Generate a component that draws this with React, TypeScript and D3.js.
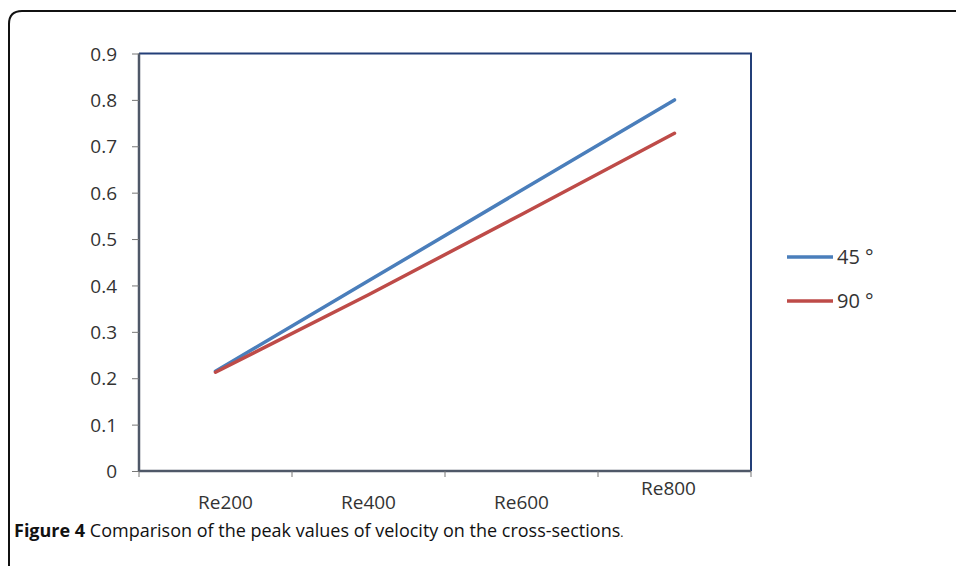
import * as d3 from 'd3';
import { useEffect, useRef } from 'react';

const categories = ['Re200', 'Re400', 'Re600', 'Re800'];
const series45 = [0.215, 0.41, 0.605, 0.8];
const series90 = [0.213, 0.38, 0.553, 0.728];
const yTicks = [0, 0.1, 0.2, 0.3, 0.4, 0.5, 0.6, 0.7, 0.8, 0.9];
const seriesNames = ['45°', '90°'];

const W = 956;
const H = 566;
const font = 'Open Sans, Lato, sans-serif';

const App = () => {
  const ref = useRef<SVGSVGElement | null>(null);

  useEffect(() => {
    if (!ref.current) return;
    const svg = d3.select(ref.current);
    svg.selectAll('*').remove();

    // outer figure frame
    svg.append('path')
      .attr('d', 'M9,580 L9,24 Q9,11 22,11 L970,11')
      .attr('fill', 'none')
      .attr('stroke', '#111')
      .attr('stroke-width', 2);

    const left = 139, right = 751, top = 53.5, bottom = 471;
    const x = d3.scaleBand<string>().domain(categories).range([left, right]);
    const y = d3.scaleLinear().domain([0, 0.9]).range([bottom, top]);

    // plot box top / right
    svg.append('path')
      .attr('d', `M${left},${top} L${right},${top} L${right},${bottom}`)
      .attr('fill', 'none')
      .attr('stroke', '#233f78')
      .attr('stroke-width', 2);

    // y axis
    const yAxis = svg.append('g').attr('transform', `translate(${left},0)`)
      .call(d3.axisLeft(y).tickValues(yTicks).tickSize(7).tickPadding(15)
        .tickFormat(d => d3.format('')(+(+d).toFixed(1))));
    yAxis.attr('font-size', null).attr('font-family', null);
    yAxis.select('.domain').attr('stroke', '#4f5868').attr('stroke-width', 2.5)
      .attr('d', `M0,${top}V${bottom}`);
    yAxis.selectAll('.tick line').attr('stroke', '#777');
    yAxis.selectAll('text')
      .style('font-family', font).style('font-size', '19px').attr('fill', '#333')
      .attr('dy', '0.35em');

    // x axis
    const xAxis = svg.append('g').attr('transform', `translate(0,${bottom})`);
    xAxis.append('line').attr('x1', left).attr('x2', right).attr('stroke', '#4f5868').attr('stroke-width', 2.5);
    const bounds = [...categories.map(c => x(c) as number), right];
    xAxis.selectAll('line.tick').data(bounds).enter().append('line')
      .attr('class', 'tick')
      .attr('x1', d => d).attr('x2', d => d).attr('y1', 0).attr('y2', 6)
      .attr('stroke', '#777');
    xAxis.selectAll('text').data(categories).enter().append('text')
      .attr('x', d => (x(d) as number) + x.bandwidth() / 2 + (d === 'Re200' ? 10 : d === 'Re800' ? -6 : 0))
      .attr('y', d => d === 'Re800' ? 24 : 38)
      .attr('text-anchor', 'middle')
      .style('font-family', font).style('font-size', '19px').attr('fill', '#333')
      .text(d => d);

    const colors = ['#4a7ebb', '#be4b48'];
    const line = d3.line<number>()
      .x((_, i) => (x(categories[i]) as number) + x.bandwidth() / 2)
      .y(d => y(d));
    [series45, series90].forEach((s, i) => {
      svg.append('path').attr('d', line(s) ?? '')
        .attr('fill', 'none').attr('stroke', colors[i])
        .attr('stroke-width', 3.5).attr('stroke-linecap', 'round');
    });

    // legend
    const lg = svg.append('g');
    seriesNames.forEach((n, i) => {
      const ly = 257 + i * 44;
      lg.append('line').attr('x1', 787).attr('x2', 833).attr('y1', ly).attr('y2', ly)
        .attr('stroke', colors[i]).attr('stroke-width', 3.5);
      lg.append('text').attr('x', 837).attr('y', ly).attr('dy', '0.35em')
        .style('font-family', font).style('font-size', '20px').attr('fill', '#333')
        .text(n.replace('°', ' °'));
    });

    // caption
    const cap = svg.append('text').attr('x', 14).attr('y', 537)
      .style('font-family', font).style('font-size', '18px').attr('fill', '#111');
    cap.append('tspan').attr('font-weight', 'bold').text('Figure 4');
    cap.append('tspan').text(' Comparison of the peak values of velocity on the cross-sections');
    cap.append('tspan').style('font-size', '12px').text('.');
  }, []);

  return (
    <svg ref={ref} width={W} height={H}
      style={{ position: 'absolute', left: 0, top: 0, background: '#fff' }} />
  );
};

export default App;
